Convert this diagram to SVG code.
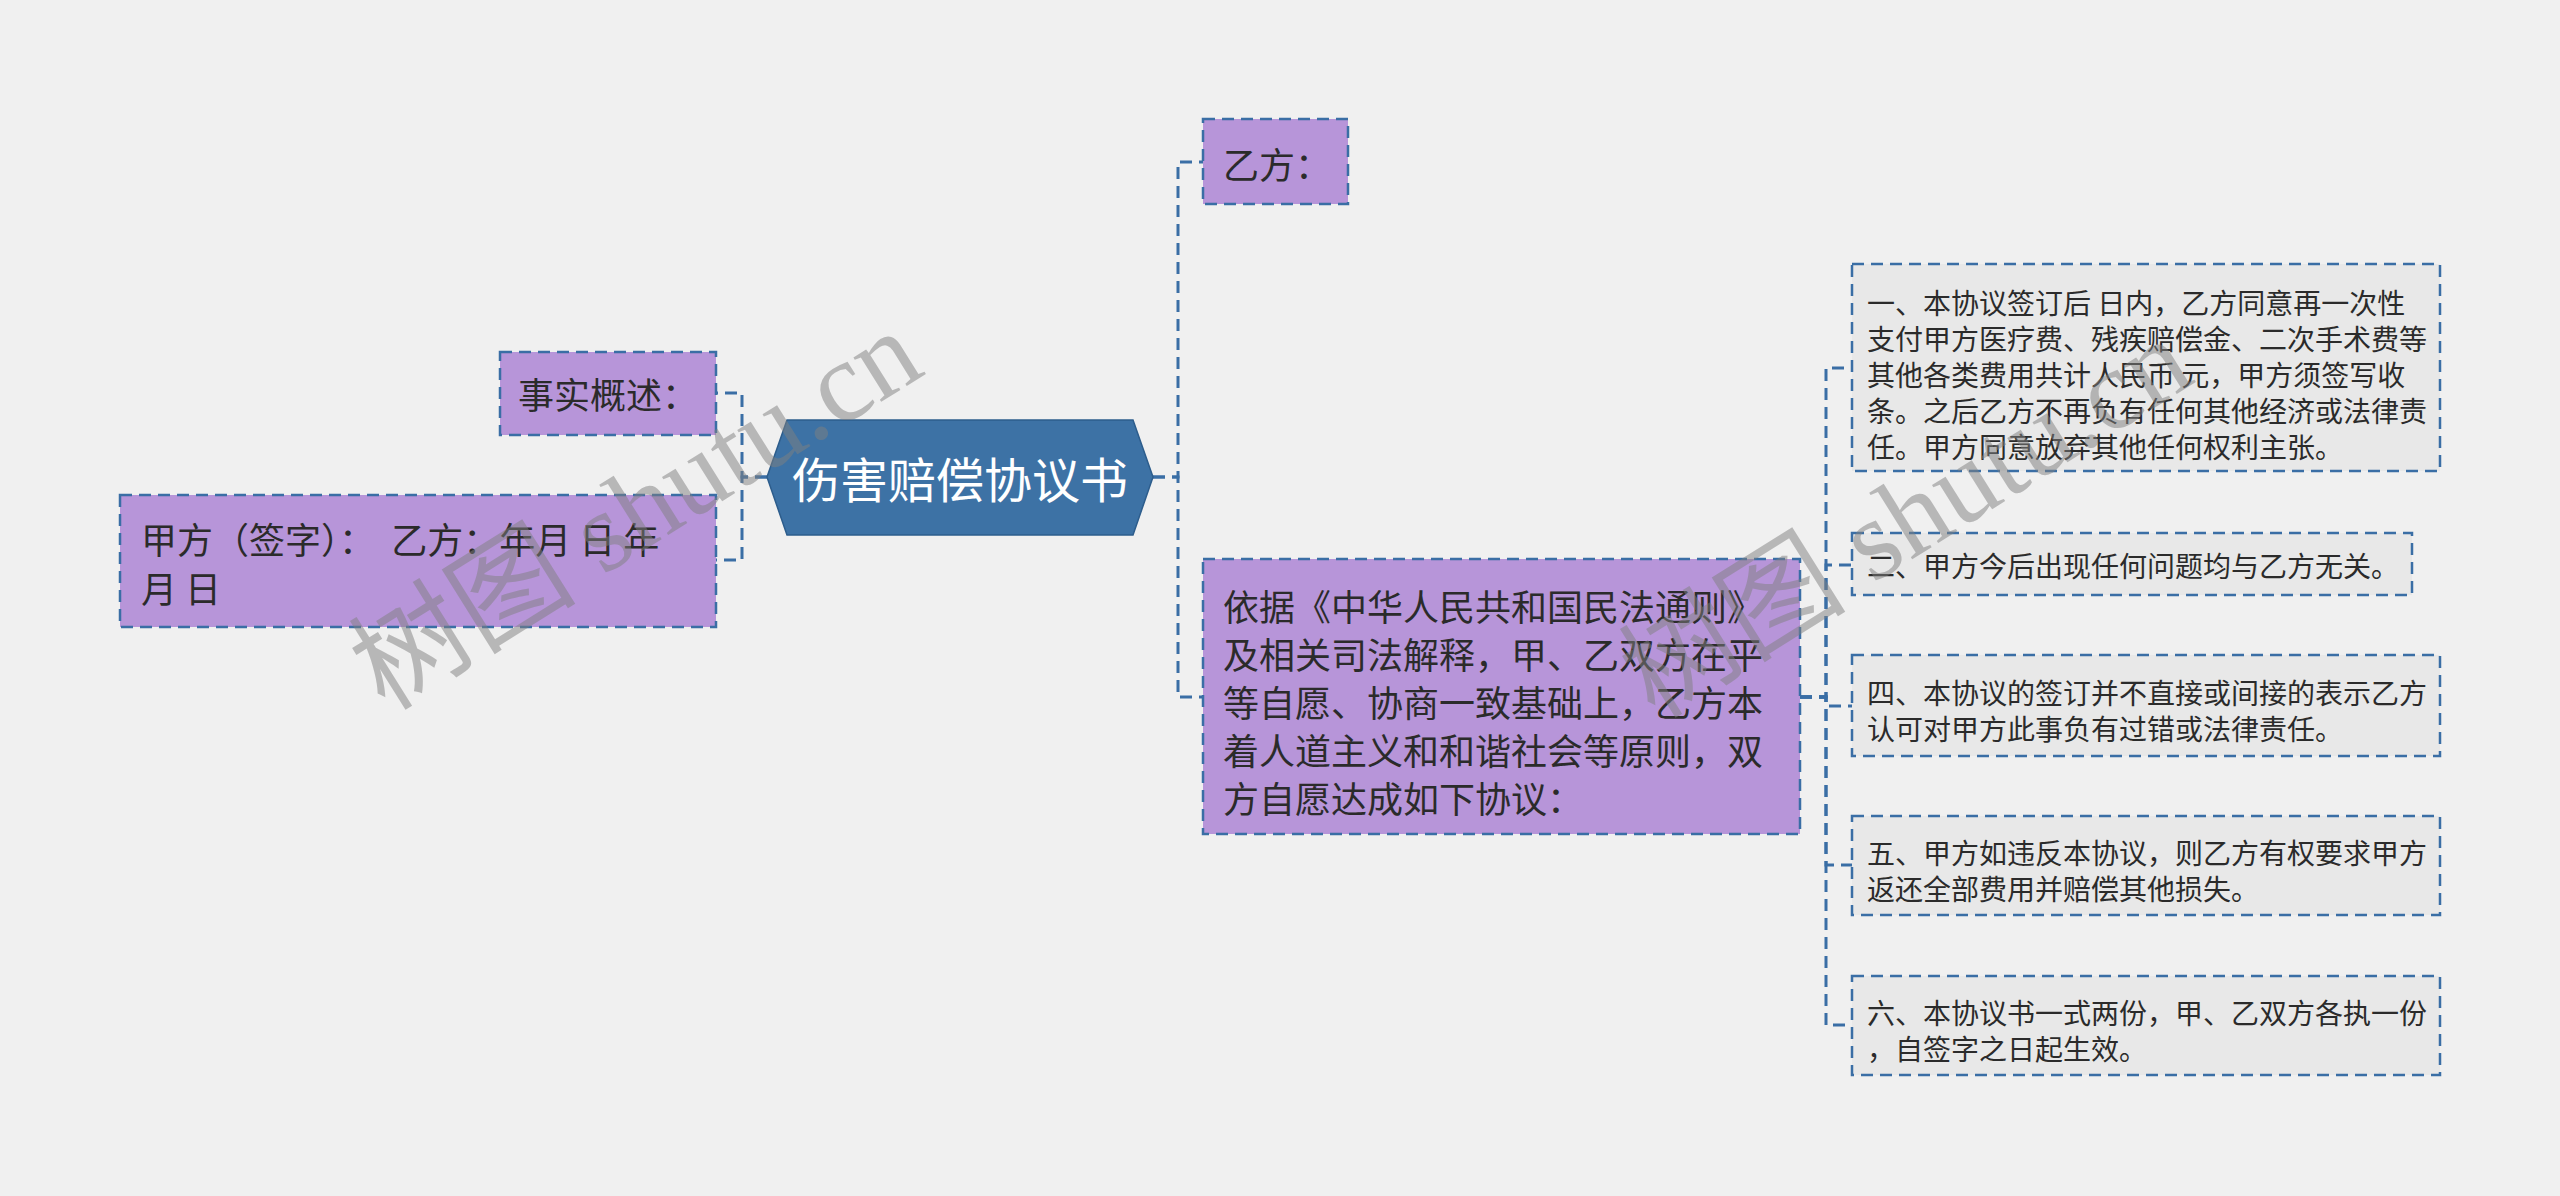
<svg xmlns="http://www.w3.org/2000/svg" width="2560" height="1196" viewBox="0 0 2560 1196">
<style>
.bg{fill:#f0f0f0}
.pbox{fill:#b795d9;stroke:#3a6ea5;stroke-width:2.5;stroke-dasharray:12 7}
.gbox{fill:#e8e8e8;stroke:#3a6ea5;stroke-width:2.5;stroke-dasharray:12 7}
.conn{fill:none;stroke:#3a6ea5;stroke-width:3;stroke-dasharray:12 7}
.t{font-family:"Noto Sans CJK SC","Noto Sans",sans-serif;fill:#2b2b2b;dominant-baseline:central}
.t36{font-size:36px}
.t28{font-size:28px}
.main{font-family:"Noto Sans CJK SC","Noto Sans",sans-serif;font-size:48px;fill:#ffffff;dominant-baseline:central;text-anchor:middle}
.wm{font-family:"Liberation Serif","Noto Sans CJK SC",serif;font-size:114px;fill:#808080;opacity:0.5}
</style>
<rect class="bg" x="0" y="0" width="2560" height="1196"/>
<g id="connectors">
<path class="conn" d="M767,477 H742 V393 H716"/>
<path class="conn" d="M767,477 H742 V560 H716"/>
<path class="conn" d="M1153,477 H1178 V162 H1203"/>
<path class="conn" d="M1153,477 H1178 V697 H1203"/>
<path class="conn" d="M1800,697 H1826 V368 H1852"/>
<path class="conn" d="M1800,697 H1826 V565 H1852"/>
<path class="conn" d="M1800,697 H1826 V706 H1852"/>
<path class="conn" d="M1800,697 H1826 V865 H1852"/>
<path class="conn" d="M1800,697 H1826 V1025 H1852"/>
</g>
<g id="root">
<polygon points="767,477 787,420 1133,420 1153,477 1133,535 787,535" fill="#3d72a5" stroke="#2d5d8c" stroke-width="1.5"/>
<text class="main" x="960" y="477">伤害赔偿协议书</text>
</g>
<g id="n-shishi">
<rect class="pbox" x="500" y="352" width="216" height="83"/>
<text class="t t36" x="518" y="393">事实概述：</text>
</g>
<g id="n-jiafang">
<rect class="pbox" x="120" y="495" width="596" height="132"/>
<text class="t t36" x="141" y="538" xml:space="preserve">甲方（签字）：  乙方：年月 日 年</text>
<text class="t t36" x="141" y="587" xml:space="preserve">月 日</text>
</g>
<g id="n-yifang">
<rect class="pbox" x="1203" y="119" width="145" height="85"/>
<text class="t t36" x="1223" y="163">乙方：</text>
</g>
<g id="n-yiju">
<rect class="pbox" x="1203" y="559" width="597" height="275"/>
<text class="t t36" x="1223" y="605">依据《中华人民共和国民法通则》</text>
<text class="t t36" x="1223" y="653">及相关司法解释，甲、乙双方在平</text>
<text class="t t36" x="1223" y="701">等自愿、协商一致基础上，乙方本</text>
<text class="t t36" x="1223" y="749">着人道主义和和谐社会等原则，双</text>
<text class="t t36" x="1223" y="797">方自愿达成如下协议：</text>
</g>
<g id="n-1">
<rect class="gbox" x="1852" y="264" width="588" height="207"/>
<text class="t t28" x="1867" y="302">一、本协议签订后 日内，乙方同意再一次性</text>
<text class="t t28" x="1867" y="338">支付甲方医疗费、残疾赔偿金、二次手术费等</text>
<text class="t t28" x="1867" y="374">其他各类费用共计人民币 元，甲方须签写收</text>
<text class="t t28" x="1867" y="410">条。之后乙方不再负有任何其他经济或法律责</text>
<text class="t t28" x="1867" y="446">任。甲方同意放弃其他任何权利主张。</text>
</g>
<g id="n-2">
<rect class="gbox" x="1852" y="533" width="560" height="62"/>
<text class="t t28" x="1867" y="565">二、甲方今后出现任何问题均与乙方无关。</text>
</g>
<g id="n-4">
<rect class="gbox" x="1852" y="655" width="588" height="101"/>
<text class="t t28" x="1867" y="692">四、本协议的签订并不直接或间接的表示乙方</text>
<text class="t t28" x="1867" y="728">认可对甲方此事负有过错或法律责任。</text>
</g>
<g id="n-5">
<rect class="gbox" x="1852" y="816" width="588" height="99"/>
<text class="t t28" x="1867" y="852">五、甲方如违反本协议，则乙方有权要求甲方</text>
<text class="t t28" x="1867" y="888">返还全部费用并赔偿其他损失。</text>
</g>
<g id="n-6">
<rect class="gbox" x="1852" y="976" width="588" height="99"/>
<text class="t t28" x="1867" y="1012">六、本协议书一式两份，甲、乙双方各执一份</text>
<text class="t t28" x="1867" y="1048">，自签字之日起生效。</text>
</g>
<g id="watermarks">
<text class="wm" transform="translate(385,712) rotate(-32)">树图 shutu.cn</text>
<text class="wm" transform="translate(1655,720) rotate(-32)">树图 shutu.cn</text>
</g>
</svg>
